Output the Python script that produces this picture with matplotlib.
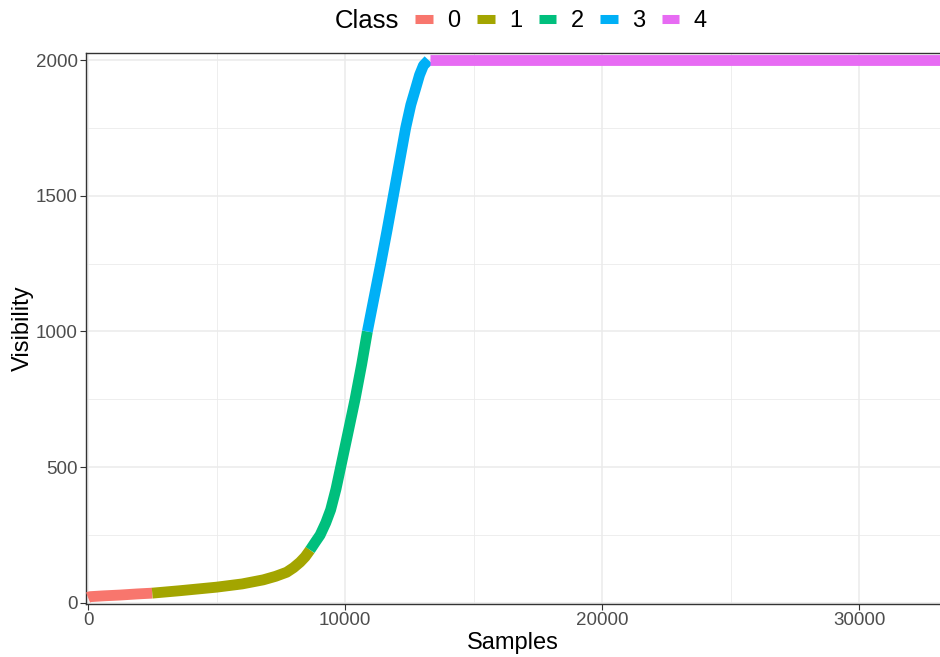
import matplotlib
matplotlib.use('Agg')
import matplotlib.pyplot as plt
from matplotlib.lines import Line2D

plt.rcParams['font.family'] = ['Liberation Sans', 'DejaVu Sans']

# Values (sorted visibility per sample, by class)
class_names = ['0', '1', '2', '3', '4']
class_colors = ['#F8766D', '#A3A500', '#00BF7D', '#00B0F6', '#E76BF3']

samples_0 = [0, 80, 600, 1250, 1900, 2500]
vis_0 = [20, 23, 26, 29, 33, 36]

samples_1 = [2500, 3580, 5000, 6000, 6820, 7300, 7730, 8000, 8250, 8450, 8640]
vis_1 = [36, 45, 58, 70, 85, 98, 113, 130, 150, 170, 195]

samples_2 = [8640, 8850, 9030, 9250, 9440, 9650, 9830, 10100, 10390, 10650, 10870]
vis_2 = [195, 225, 250, 295, 343, 420, 500, 620, 750, 880, 1000]

samples_3 = [10870, 11130, 11390, 11640, 11880, 12120, 12360, 12560, 12750, 12900, 13050, 13250]
vis_3 = [1000, 1125, 1250, 1375, 1500, 1625, 1750, 1835, 1896, 1945, 1980, 2000]

samples_4 = [13300, 34000]
vis_4 = [2000, 2000]

all_samples = [samples_0, samples_1, samples_2, samples_3, samples_4]
all_vis = [vis_0, vis_1, vis_2, vis_3, vis_4]

x_ticks = [0, 10000, 20000, 30000]
y_ticks = [0, 500, 1000, 1500, 2000]

fig = plt.figure(figsize=(9.4, 6.57), dpi=100)
ax = fig.add_axes([86 / 940, 53 / 657, 1 - 86 / 940, (604 - 53) / 657])

for xs, ys, col in zip(all_samples, all_vis, class_colors):
    ax.plot(xs, ys, color=col, linewidth=7.8, solid_capstyle='butt',
            solid_joinstyle='round', zorder=3)

ax.set_xlim(-78, 33150)
ax.set_ylim(-4, 2026)

ax.set_xticks(x_ticks)
ax.set_yticks(y_ticks)
ax.set_xticks([5000, 15000, 25000], minor=True)
ax.set_yticks([250, 750, 1250, 1750], minor=True)
ax.grid(which='major', color='#EBEBEB', linewidth=1.1, zorder=0)
ax.grid(which='minor', color='#EBEBEB', linewidth=0.6, zorder=0)
ax.set_axisbelow(True)

ax.tick_params(which='major', length=4, width=0.8, color='#333333',
               labelsize=13.5, labelcolor='#4D4D4D', pad=2)
ax.tick_params(which='minor', length=0)
for side in ['left', 'bottom', 'top']:
    ax.spines[side].set_color('#333333')
    ax.spines[side].set_linewidth(1.0)
ax.spines['right'].set_visible(False)

ax.set_xlabel('Samples', fontsize=17, labelpad=2)
ax.set_ylabel('Visibility', fontsize=17, labelpad=1)

# Legend on top, title to the left as in ggplot
fig.text(335 / 940, 1 - 21 / 657, 'Class', fontsize=18.5, ha='left', va='center')
handles = [Line2D([0], [0], color=c, linewidth=6.5, solid_capstyle='butt')
           for c in class_colors]
fig.legend(handles, class_names, loc='center', ncol=5,
           bbox_to_anchor=(561 / 940, 1 - 21 / 657), frameon=False,
           fontsize=17, handlelength=0.75, handletextpad=0.6,
           columnspacing=0.7, borderpad=0)

fig.savefig('out.png', dpi=100)
